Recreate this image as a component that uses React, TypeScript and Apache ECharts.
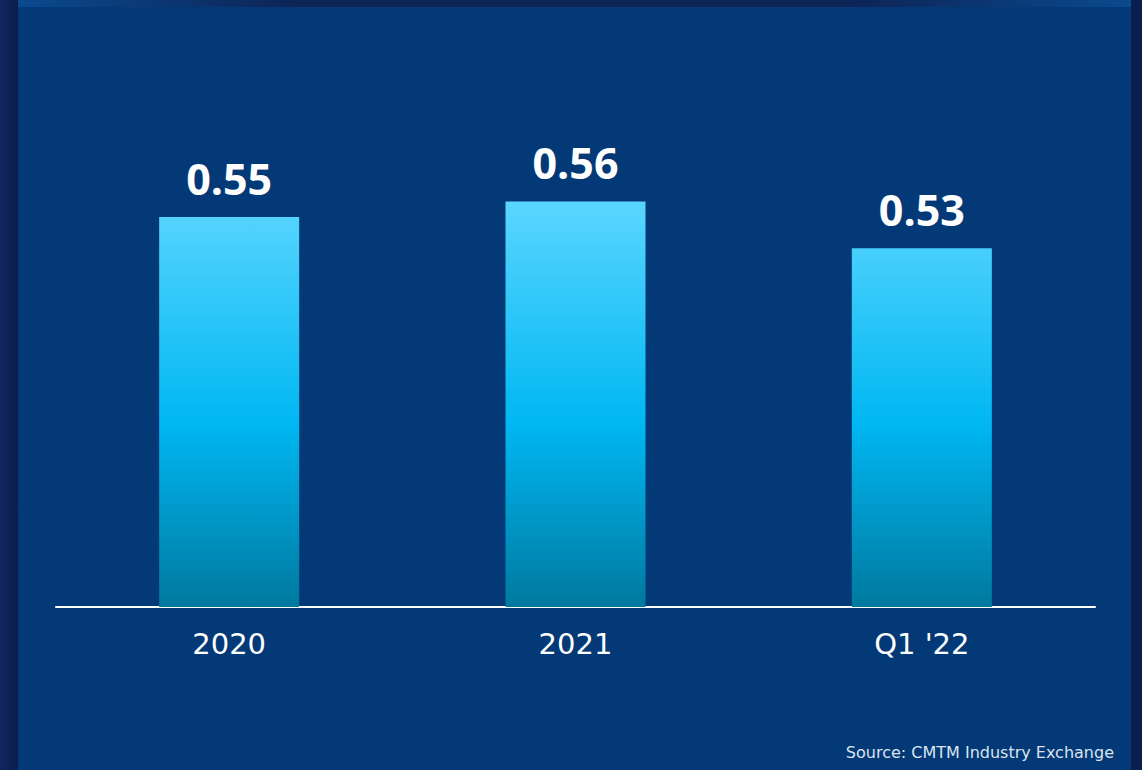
import React, { useEffect, useRef } from "react";
import * as echarts from "echarts";

const categories = ["2020", "2021", "Q1 '22"];
const values = [0.55, 0.56, 0.53];
const sourceText = "Source: CMTM Industry Exchange";

export default function App() {
  const ref = useRef<HTMLDivElement>(null);
  useEffect(() => {
    if (!ref.current) return;
    const chart = echarts.init(ref.current, undefined, { renderer: "svg" });
    chart.setOption({
      animation: false,
      backgroundColor: "#0b1f4f",
      grid: { left: 56, right: 47, top: 139, bottom: 163, containLabel: false },
      graphic: [
        {
          type: "rect",
          z: -10,
          shape: { x: 0, y: 0, width: 18, height: 770 },
          style: {
            fill: new echarts.graphic.LinearGradient(0, 0, 1, 0, [
              { offset: 0, color: "#10275f" },
              { offset: 1, color: "#0a1c4a" },
            ]),
          },
          silent: true,
        },
        {
          type: "rect",
          z: -10,
          shape: { x: 18, y: 0, width: 1113, height: 7 },
          style: {
            fill: new echarts.graphic.LinearGradient(0, 0, 1, 0, [
              { offset: 0, color: "#0a4a8f" },
              { offset: 0.25, color: "#0d2456" },
              { offset: 0.75, color: "#0d2456" },
              { offset: 1, color: "#0a4a8f" },
            ]),
          },
          silent: true,
        },
        {
          type: "rect",
          z: -10,
          shape: { x: 18, y: 7, width: 1113, height: 763 },
          style: { fill: "#033977" },
          silent: true,
        },
        {
          type: "text",
          x: 1114,
          y: 752,
          style: {
            text: sourceText,
            fill: "#dbe3ef",
            font: "16px 'DejaVu Sans', sans-serif",
            textAlign: "right",
            textVerticalAlign: "middle",
          },
          silent: true,
        },
      ],
      xAxis: {
        type: "category",
        data: categories,
        axisLine: { show: true, lineStyle: { color: "#ffffff", width: 2 } },
        axisTick: { show: false },
        axisLabel: {
          color: "#ffffff",
          fontSize: 29,
          fontFamily: "'DejaVu Sans', sans-serif",
          margin: 22,
        },
      },
      yAxis: {
        type: "value",
        min: 0.3,
        max: 0.6,
        show: false,
        splitLine: { show: false },
      },
      series: [
        {
          type: "bar",
          data: values,
          barWidth: 140,
          itemStyle: {
            color: new echarts.graphic.LinearGradient(
              0,
              201,
              0,
              607,
              [
                { offset: 0, color: "#5ad6ff" },
                { offset: 0.55, color: "#00b7f2" },
                { offset: 1, color: "#00799f" },
              ],
              true
            ),
          },
          label: {
            show: true,
            position: "top",
            distance: 17,
            color: "#ffffff",
            fontSize: 43,
            fontWeight: "bold",
            fontFamily: "'Open Sans', sans-serif",
            formatter: (p: any) => p.value.toFixed(2),
          },
        },
      ],
    });
    return () => chart.dispose();
  }, []);
  return (
    <div
      ref={ref}
      style={{ position: "absolute", left: 0, top: 0, width: 1142, height: 770 }}
    />
  );
}
